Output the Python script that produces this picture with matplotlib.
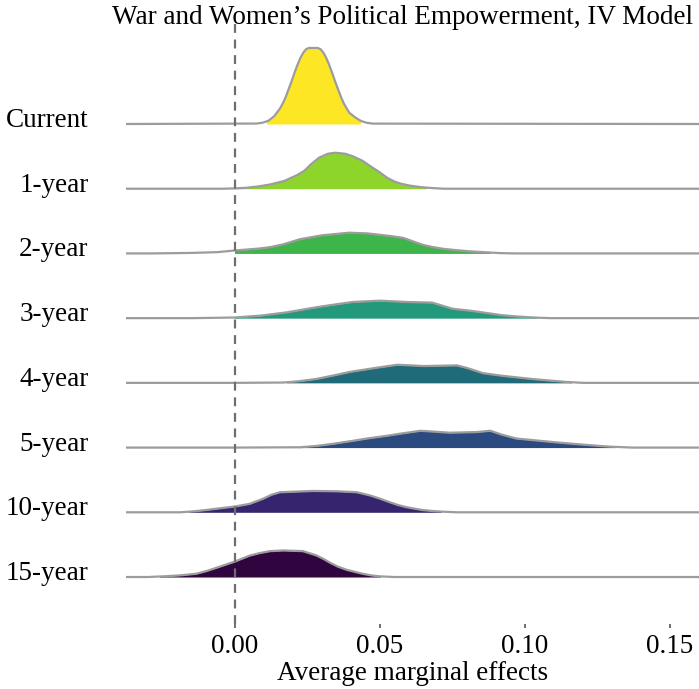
import numpy as np
import matplotlib.pyplot as plt
from matplotlib.patches import Rectangle

plt.rcParams['font.family'] = ['Liberation Serif', 'DejaVu Serif']

labels = ["15-year", "10-year", "5-year", "4-year", "3-year", "2-year", "1-year", "Current"]
colors = ["#30043f", "#36246f", "#2a4a80", "#1f6b7a", "#21997a", "#3db54b", "#8ed52b", "#fde725"]

# density curves (x = marginal effect, h = ridge height in row units)
x_15 = [-0.0376, -0.030, -0.025, -0.019, -0.0134, -0.010, -0.0066, 0.0, 0.005, 0.0085, 0.0121, 0.0166, 0.0234,
        0.028, 0.0305, 0.0328, 0.0355, 0.0386, 0.044, 0.047, 0.050, 0.055, 0.16]
h_15 = [0.0, 0.0, 0.01, 0.025, 0.05, 0.09, 0.14, 0.24, 0.33, 0.37, 0.40, 0.41, 0.40,
        0.335, 0.28, 0.22, 0.16, 0.11, 0.05, 0.025, 0.01, 0.0, 0.0]

x_10 = [-0.0376, -0.019, -0.015, -0.011, 0.0, 0.005, 0.0097, 0.0125, 0.0155, 0.027, 0.035, 0.042, 0.0466, 0.050,
        0.0534, 0.056, 0.059, 0.0645, 0.068, 0.0714, 0.0766, 0.16]
h_10 = [0.0, 0.0, 0.012, 0.03, 0.09, 0.13, 0.21, 0.27, 0.31, 0.33, 0.325, 0.31, 0.26, 0.21,
        0.155, 0.115, 0.08, 0.036, 0.02, 0.01, 0.0, 0.0]

x_5 = [-0.0376, 0.0, 0.0224, 0.028, 0.034, 0.040, 0.0455, 0.052, 0.057, 0.064, 0.074, 0.0834, 0.088, 0.092, 0.097,
       0.1086, 0.1145, 0.120, 0.125, 0.129, 0.137, 0.16]
h_5 = [0.0, 0.0, 0.005, 0.025, 0.06, 0.10, 0.14, 0.18, 0.215, 0.26, 0.23, 0.24, 0.26, 0.20, 0.14,
       0.09, 0.066, 0.046, 0.028, 0.015, 0.0, 0.0]

x_4 = [-0.0376, 0.0, 0.0166, 0.022, 0.028, 0.034, 0.0397, 0.049, 0.056, 0.065, 0.0766, 0.080, 0.0855, 0.092,
       0.103, 0.114, 0.120, 0.16]
h_4 = [0.0, 0.0, 0.005, 0.025, 0.06, 0.115, 0.17, 0.235, 0.28, 0.26, 0.27, 0.23, 0.15, 0.11,
       0.057, 0.015, 0.0, 0.0]

x_3 = [-0.0376, -0.015, 0.0, 0.009, 0.0179, 0.029, 0.035, 0.0407, 0.050, 0.059, 0.068, 0.075, 0.082, 0.092,
       0.0965, 0.101, 0.105, 0.109, 0.16]
h_3 = [0.0, 0.0, 0.01, 0.04, 0.09, 0.175, 0.215, 0.25, 0.27, 0.25, 0.24, 0.145, 0.11, 0.046,
       0.028, 0.015, 0.006, 0.0, 0.0]

x_2 = [-0.0376, -0.029, -0.015, -0.006, 0.0, 0.004, 0.0086, 0.0125, 0.0166, 0.0195, 0.0224, 0.030, 0.0393, 0.0455,
       0.0534, 0.058, 0.0627, 0.065, 0.068, 0.072, 0.0765, 0.081, 0.0855, 0.0914, 0.097, 0.16]
h_2 = [0.0, 0.0, 0.008, 0.02, 0.046, 0.06, 0.077, 0.10, 0.14, 0.18, 0.22, 0.28, 0.32, 0.31,
       0.27, 0.24, 0.165, 0.13, 0.10, 0.07, 0.05, 0.032, 0.02, 0.005, 0.0, 0.0]

x_1 = [-0.0376, -0.004, 0.0, 0.004, 0.008, 0.012, 0.017, 0.0214, 0.024, 0.026, 0.029, 0.032, 0.0345, 0.038, 0.0407,
       0.044, 0.0466, 0.050, 0.0524, 0.055, 0.057, 0.060, 0.064, 0.068, 0.072, 0.16]
h_1 = [0.0, 0.0, 0.005, 0.015, 0.035, 0.065, 0.12, 0.21, 0.28, 0.37, 0.48, 0.54, 0.556, 0.54, 0.50,
       0.43, 0.35, 0.25, 0.17, 0.11, 0.08, 0.05, 0.025, 0.01, 0.0, 0.0]

x_cur = [-0.0376, 0.0075, 0.0095, 0.0115, 0.0135, 0.0155, 0.0165, 0.0175, 0.0185, 0.0195, 0.0205, 0.0215, 0.0225,
         0.0235, 0.0245, 0.0255, 0.0265, 0.0275, 0.0285, 0.0295, 0.0305, 0.0315, 0.0325, 0.0335, 0.0345,
         0.0355, 0.0365, 0.0375, 0.0385, 0.0395, 0.0415, 0.0435, 0.0455, 0.0475, 0.16]
h_cur = [0.0, 0.007, 0.02, 0.05, 0.12, 0.24, 0.32, 0.42, 0.54, 0.66, 0.79, 0.91, 1.018,
         1.10, 1.156, 1.175, 1.175, 1.175, 1.175, 1.156, 1.10, 1.018, 0.91, 0.79, 0.66,
         0.54, 0.42, 0.32, 0.24, 0.17, 0.10, 0.045, 0.018, 0.006, 0.0]

xs = [x_15, x_10, x_5, x_4, x_3, x_2, x_1, x_cur]
hs = [h_15, h_10, h_5, h_4, h_3, h_2, h_1, h_cur]

# filled part of each ridge
fill_lo = [-0.026, -0.016, 0.022, 0.018, 0.0, 0.0, 0.0, 0.011]
fill_hi = [0.050, 0.071, 0.131, 0.116, 0.104, 0.088, 0.066, 0.043]

W, H = 699, 689
fig = plt.figure(figsize=(W/100, H/100), dpi=100)
ax = fig.add_axes([126/W, (H-624)/H, (W-126)/W, (624-20)/H])

# draw from top row to bottom row so lower ridges overlap upper ones
for i in range(len(labels)-1, -1, -1):
    x = np.array(xs[i])
    y = np.array(hs[i]) + i
    poly = ax.fill_between(x, i, y, color=colors[i], lw=0, zorder=2*(8-i))
    clip = Rectangle((fill_lo[i], i-0.5), fill_hi[i]-fill_lo[i], 3, transform=ax.transData)
    poly.set_clip_path(clip)
    ax.plot(x, y, color="#9c9c9c", lw=1.6, zorder=2*(8-i)+1, solid_joinstyle='round')

ax.axvline(0, color="#6e6e6e", lw=1.6, ls=(0, (4, 3)), zorder=30)

ax.set_xlim(-0.0376, 0.16)
ax.set_ylim(-0.726, 8.607)
ax.set_xticks([0.0, 0.05, 0.10, 0.15])
ax.set_xticklabels(["0.00", "0.05", "0.10", "0.15"])
ax.set_yticks(np.arange(8) + 0.1)
ax.set_yticklabels(labels)
ax.tick_params(axis='y', length=0, pad=27, labelsize=19.5)
ax.tick_params(axis='x', length=3, width=1.2, color="#555555", pad=4, labelsize=19.5)
for s in ax.spines.values():
    s.set_visible(False)

ax.set_xlabel("Average marginal effects", fontsize=19.5, labelpad=2)
fig.text(402/W, 1-17/H, "War and Women\u2019s Political Empowerment, IV Model", fontsize=19.5,
         ha='center', va='center')

fig.savefig("out.png", dpi=100)
